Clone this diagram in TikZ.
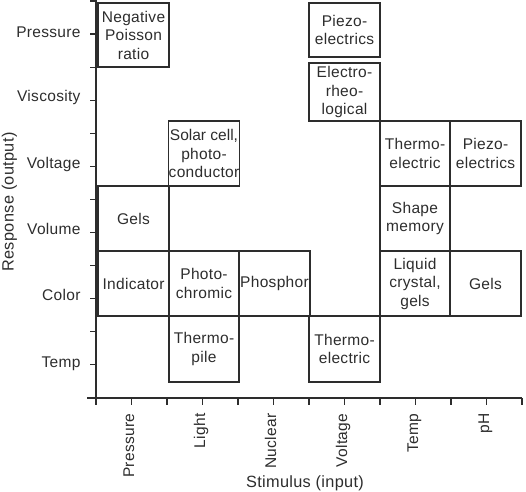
\documentclass[tikz,border=0pt]{standalone}
\usepackage{fontspec}
\setmainfont{Liberation Sans}[LetterSpace=2]
\definecolor{ink}{RGB}{45,45,45}
\begin{document}
\begin{tikzpicture}[x=1pt,y=-1pt,
  every node/.style={text=ink, font=\fontsize{15.5}{18.5}\selectfont},
  cell/.style={draw=ink, line width=1.1pt, inner sep=0pt, align=center},
  axisline/.style={draw=ink, line width=1.2pt},
  ticklbl/.style={anchor=base east},
  xlbl/.style={rotate=90, anchor=mid east},
  title/.style={font=\fontsize{16.3}{19}\selectfont}]
\useasboundingbox (0,0) rectangle (526,491);
% axes
\draw[axisline] (96,0) -- (96,405);
\draw[axisline] (87,398) -- (522,398);
\foreach \i in {0,...,12} \draw[axisline] (90,{1+33.08*\i}) -- (96,{1+33.08*\i});
\foreach \i in {0,...,12} \draw[axisline] ({96+35.5*\i},398) -- ({96+35.5*\i},405);
% y tick labels
\node[ticklbl] (yp) at (84,37) {Pressure};
\node[ticklbl] (yv) at (84,101) {Viscosity};
\node[ticklbl] (yvo) at (84,168) {Voltage};
\node[ticklbl] (yvl) at (84,234) {Volume};
\node[ticklbl] (yc) at (84,300) {Color};
\node[ticklbl] (yt) at (84,367) {Temp};
% x tick labels
\node[xlbl] (xp) at (131.5,410) {Pressure};
\node[xlbl] (xl) at (202.5,410) {Light};
\node[xlbl] (xn) at (273.5,410) {Nuclear};
\node[xlbl] (xv) at (344.5,410) {Voltage};
\node[xlbl] (xt) at (415.5,410) {Temp};
\node[xlbl] (xph) at (486.5,410) {pH};
% axis titles
\node[title, anchor=base] (xtitle) at (305,487) {Stimulus (input)};
\node[title, rotate=90, anchor=base] (ytitle) at (13.5,202) {Response (output)};
% cells
\node[cell, minimum width=71pt, minimum height=64pt] (np) at (133.5,35) {Negative\\Poisson\\ratio};
\node[cell, minimum width=71pt, minimum height=54pt] (pz1) at (344.5,30) {Piezo-\\electrics};
\node[cell, minimum width=71pt, minimum height=58pt] (er) at (344.5,92) {Electro-\\rheo-\\logical};
\node[cell, minimum width=70pt, minimum height=65pt] (sc) at (204,153.5) {\addfontfeature{LetterSpace=0}Solar cell,\\photo-\\conductor};
\node[cell, minimum width=70pt, minimum height=65pt] (te1) at (415,153.5) {Thermo-\\electric};
\node[cell, minimum width=71pt, minimum height=65pt] (pz2) at (485.5,153.5) {Piezo-\\electrics};
\node[cell, minimum width=71pt, minimum height=65pt] (g1) at (133.5,218.5) {Gels};
\node[cell, minimum width=70pt, minimum height=65pt] (sm) at (415,218.5) {Shape\\memory};
\node[cell, minimum width=71pt, minimum height=65pt] (ind) at (133.5,283.5) {Indicator};
\node[cell, minimum width=70pt, minimum height=65pt] (pc) at (204,283.5) {Photo-\\chromic};
\node[cell, minimum width=71pt, minimum height=65pt] (ph) at (274.5,283.5) {Phosphor};
\node[cell, minimum width=70pt, minimum height=65pt] (lc) at (415,283.5) {Liquid\\crystal,\\gels};
\node[cell, minimum width=71pt, minimum height=65pt] (g2) at (485.5,283.5) {Gels};
\node[cell, minimum width=70pt, minimum height=66pt] (tp) at (204,349) {Thermo-\\pile};
\node[cell, minimum width=71pt, minimum height=66pt] (te2) at (344.5,349) {Thermo-\\electric};
\end{tikzpicture}
\end{document}
